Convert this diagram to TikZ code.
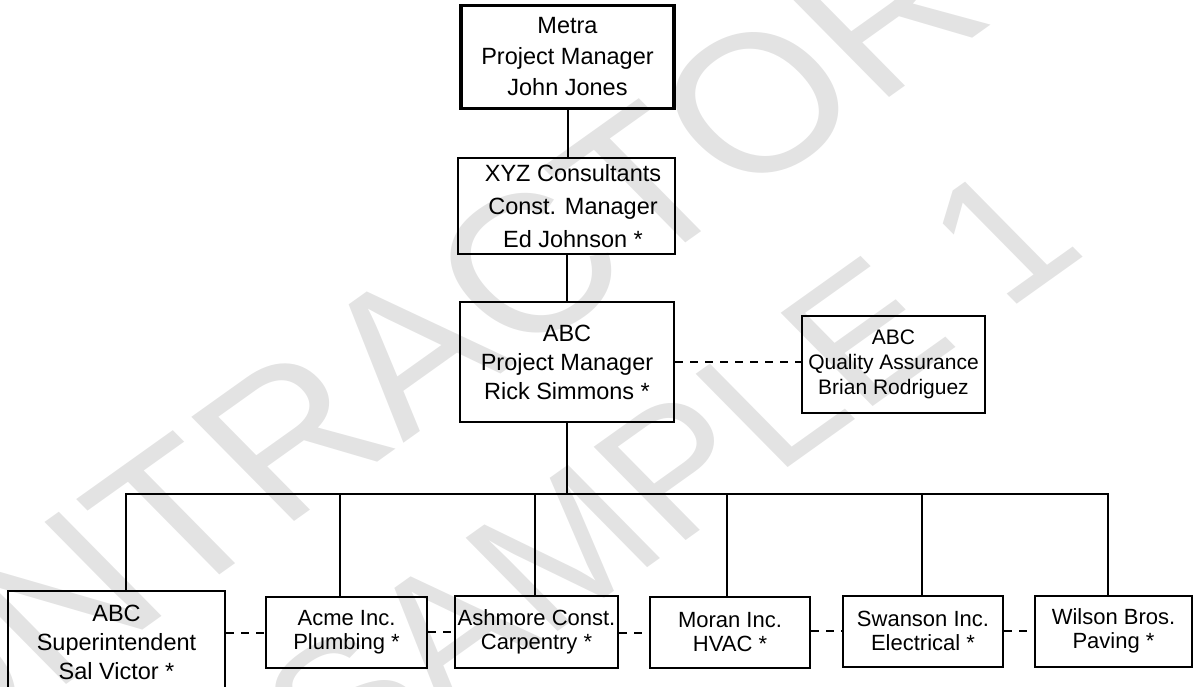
\documentclass[tikz,border=0pt]{standalone}
\usepackage{fontspec}
\setmainfont{Liberation Sans}
\usepackage{tikz}

\begin{document}
\begin{tikzpicture}[x=1pt, y=-1pt,
		caja/.style={draw, line width=2pt, align=center, inner sep=0pt, font=\fontsize{23.5}{29}\selectfont},
		chica/.style={caja, minimum width=160pt, minimum height=71pt, font=\fontsize{22}{24}\selectfont},
		marca/.style={text=black!11, inner sep=0pt, rotate=35.5, xslant=-0.16},
		enlace/.style={line width=2pt},
		punteado/.style={line width=2pt, dash pattern=on 8pt off 7pt}]
	\useasboundingbox (0,0) rectangle (1194,686);

	% Marca de agua
	\node[marca, font=\fontsize{210}{240}\selectfont] (marcaA) at (346,396) {CONTRACTOR};
	\node[marca, font=\fontsize{188}{220}\selectfont] (marcaB) at (670,472) {SAMPLE 1};

	% Cajas
	\node[caja, line width=3.5pt, minimum width=213pt, minimum height=103pt, font=\fontsize{23.5}{31}\selectfont] (metra) at (567.5,57) {Metra\\Project Manager\\John Jones};
	\node[caja, minimum width=217pt, minimum height=96pt, font=\fontsize{23.5}{33}\selectfont] (xyz) at (566.5,206) {\hspace*{13pt}XYZ Consultants\\\hspace*{13pt}Const. Manager\\\hspace*{13pt}Ed Johnson *};
	\node[caja, minimum width=214pt, minimum height=120pt] (pm) at (567,362) {ABC\\Project Manager\\Rick Simmons *};
	\node[caja, minimum width=183pt, minimum height=97pt, font=\fontsize{21}{25}\selectfont] (qa) at (893.5,364.5) {ABC\\Quality Assurance\\Brian Rodriguez};
	\node[caja, minimum width=217pt, minimum height=102pt] (super) at (116.5,642) {ABC\\Superintendent\\Sal Victor *};
	\node[chica, minimum width=161pt] (acme) at (346.5,632.5) {Acme Inc.\\Plumbing *};
	\node[chica, minimum width=163pt, minimum height=72pt] (ashmore) at (536.5,632) {Ashmore Const.\\Carpentry *};
	\node[chica] (moran) at (730,632.5) {Moran Inc.\\HVAC *};
	\node[chica] (swanson) at (923,631) {Swanson Inc.\\Electrical *};
	\node[chica, minimum width=157pt] (wilson) at (1113.5,631) {Wilson Bros.\\Paving *};

	% Lineas
	\coordinate (bus) at (0,494);
	\draw[enlace] (metra.south) -- (metra.south |- xyz.north);
	\draw[enlace] (xyz.south) -- (xyz.south |- pm.north);
	\draw[enlace] (pm.south) -- (pm.south |- bus);
	\draw[enlace] ([xshift=9.5pt]super.north) |- ([xshift=-5.5pt]wilson.north |- bus) -- ([xshift=-5.5pt]wilson.north);
	\foreach \n/\d in {acme/-6.5, ashmore/-1.5, moran/-3, swanson/-1}
		\draw[enlace] ([xshift=\d pt]\n.north) -- ([xshift=\d pt]\n.north |- bus);

	% Punteadas
	\draw[punteado] (pm.east) -- (pm.east -| qa.west);
	\foreach \a/\b in {super/acme, acme/ashmore, ashmore/moran, moran/swanson, swanson/wilson}
		\draw[punteado] (\b.west -| \a.east) -- (\b.west);
\end{tikzpicture}
\end{document}
